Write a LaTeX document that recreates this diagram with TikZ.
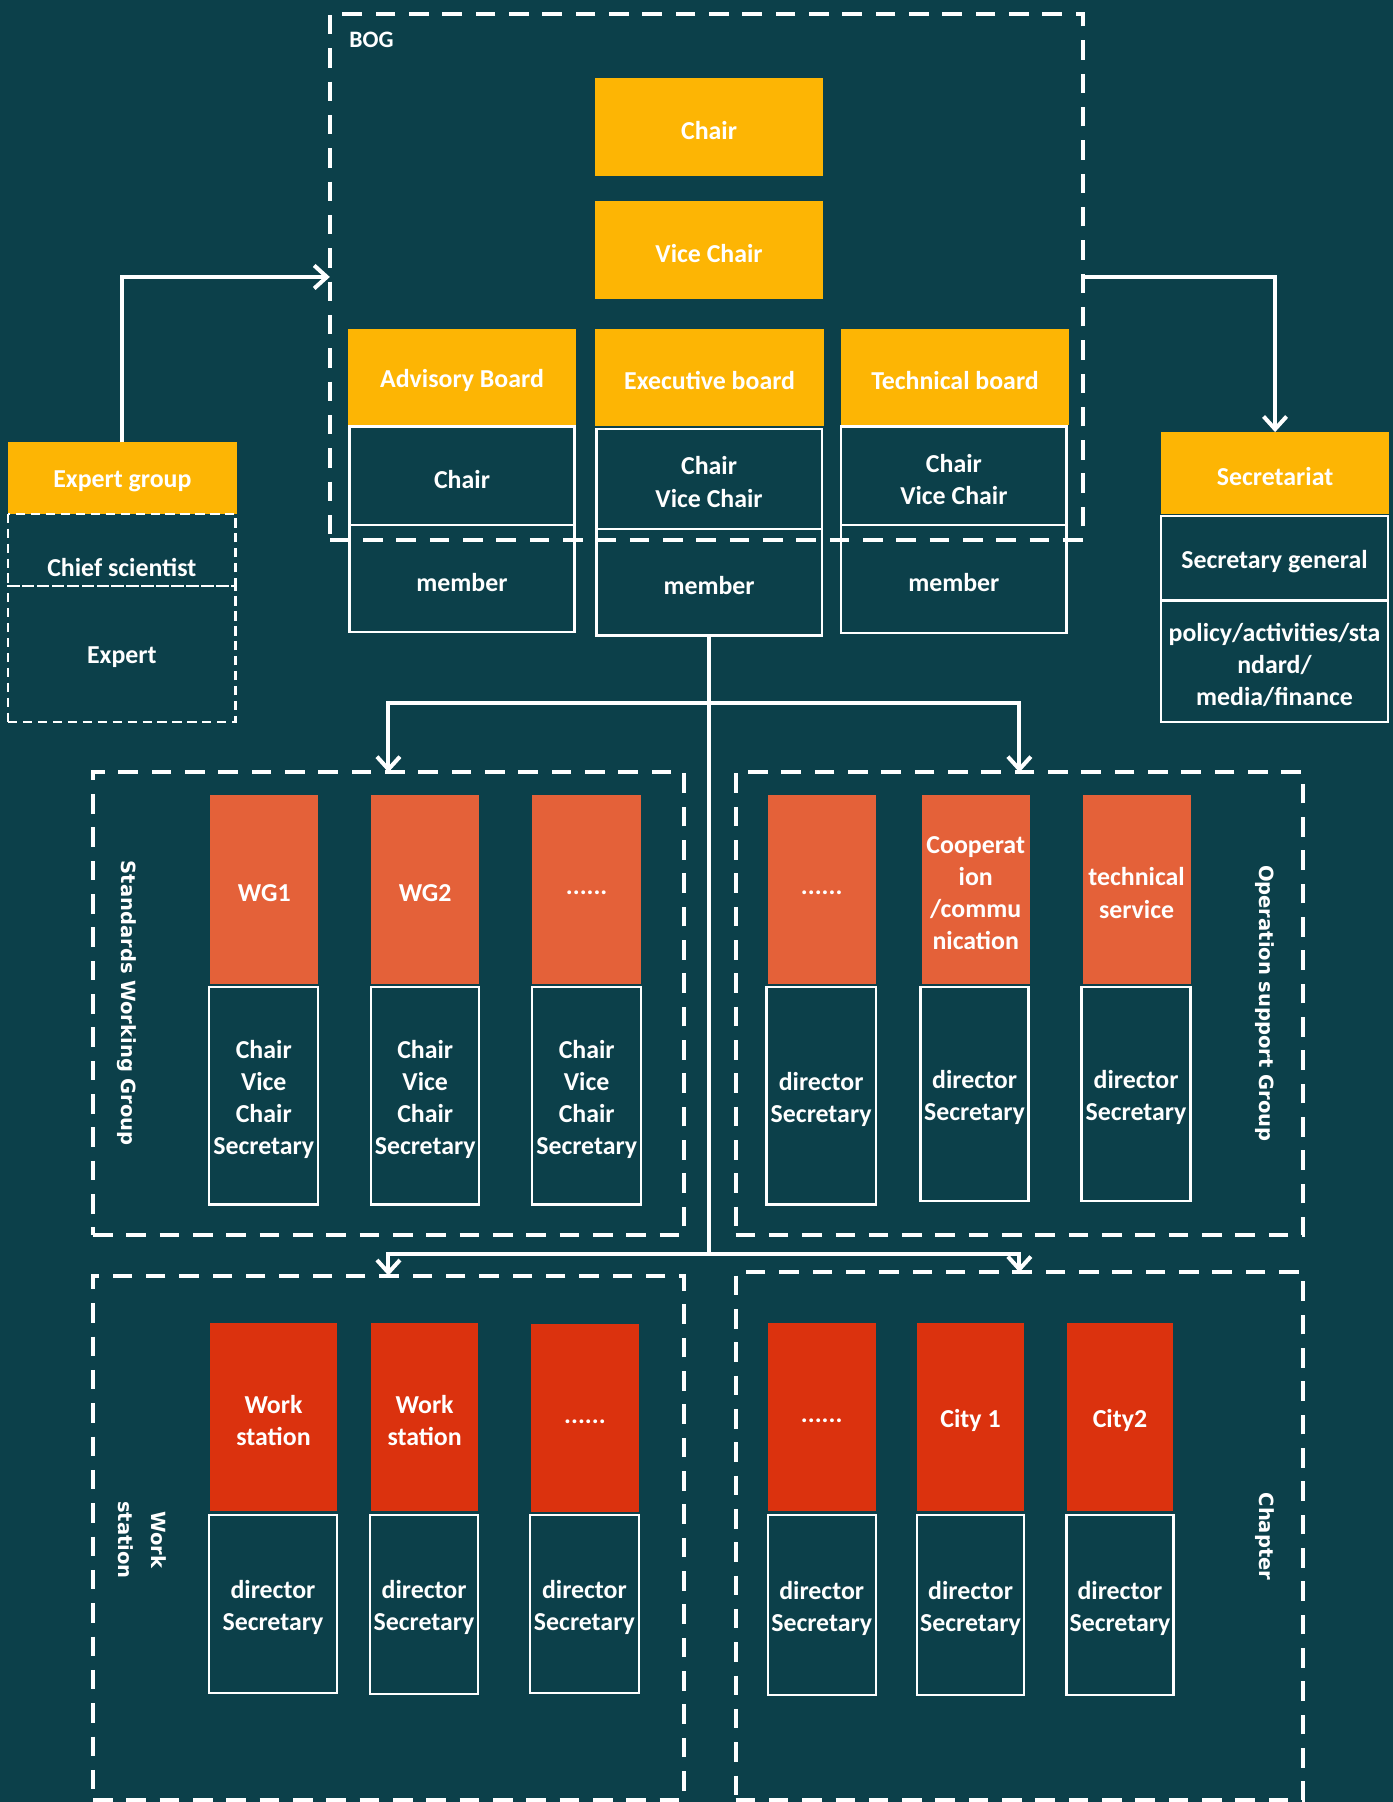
\documentclass[tikz,border=0pt]{standalone}
\usepackage{fontspec}
\setmainfont{Carlito}
\newfontfamily\labfont{DejaVu Sans}
\usetikzlibrary{arrows.meta}
\definecolor{bg}{RGB}{12,64,74}
\definecolor{gold}{RGB}{253,181,4}
\definecolor{wgor}{RGB}{228,97,57}
\definecolor{redd}{RGB}{219,50,14}
\newcommand\bx[7]{\node[#6,minimum width={#4-#2},minimum height={#5-#3}] (#1) at ({(#2+#4)/2},{(#3+#5)/2}) {};
  \node[yshift=-3pt] (#1t) at (#1.center) {#7};}
\begin{document}
\begin{tikzpicture}[x=1pt,y=-1pt,
  every node/.style={inner sep=0pt,outer sep=0pt,text=white,align=center,
    font=\fontsize{22.5}{28}\selectfont\bfseries},
  hdr/.style={fill=gold},
  wgh/.style={fill=wgor},
  rdh/.style={fill=redd},
  outl/.style={draw=white,line width=2pt},
  bigdash/.style={draw=white,line width=3.5pt,dash pattern=on 17pt off 12pt},
  smalldash/.style={draw=white,line width=2pt,dash pattern=on 8pt off 5pt},
  conn/.style={draw=white,line width=3.5pt},
  arr/.style={conn,-{Straight Barb[length=11pt,width=20pt]}},
  grplab/.style={font=\labfont\fontsize{17}{29}\selectfont\bfseries,rotate=-90}
]
\fill[bg] (0,0) rectangle (1212,1568);
\useasboundingbox (0,0) rectangle (1212,1568);

% BOG
\bx{chair}{518}{68}{716}{153}{hdr}{Chair}
\bx{vice}{518}{175}{716}{260}{hdr}{Vice Chair}
\bx{adv}{303}{286}{501}{370}{hdr}{Advisory Board}
\bx{advc}{304}{371}{500}{457}{outl}{Chair}
\bx{advm}{304}{457}{500}{550}{outl}{member}
\bx{exe}{518}{286}{717}{371}{hdr}{Executive board}
\bx{exec}{519}{373}{715}{460}{outl}{Chair\\Vice Chair}
\bx{exem}{519}{460}{715}{553}{outl}{member}
\bx{tec}{732}{286}{930}{370}{hdr}{Technical board}
\bx{tecc}{732}{371}{928}{457}{outl}{Chair\\Vice Chair}
\bx{tecm}{732}{457}{928}{551}{outl}{member}
\node[bigdash,minimum width=655pt,minimum height=458pt] (bog) at (614.5,241) {};
\node[anchor=west,font=\fontsize{20.5}{24}\selectfont\bfseries] (boglab) at (304,35) {BOG};

% Expert group
\bx{eg}{7}{385}{206}{447}{hdr}{Expert group}
\draw[smalldash] (7,447) rectangle (205,510);
\node (egc) at (106,494) {Chief scientist};
\bx{egx}{7}{510}{205}{628}{smalldash}{Expert}

% Secretariat
\bx{sec}{1010}{376}{1209}{447}{hdr}{Secretariat}
\bx{secg}{1010}{449}{1208}{522}{outl}{Secretary general}
\bx{secp}{1010}{523}{1208}{628}{outl}{policy/activities/sta\\ndard/\\media/finance}

% Standards Working Group
\bx{swg}{81}{672}{595}{1075}{bigdash}{}
\node[grplab] (swglab) at (110,873) {Standards Working Group};
\bx{wg1}{183}{692}{277}{856}{wgh}{WG1}
\bx{wg1b}{182}{859}{277}{1048}{outl}{Chair\\Vice\\Chair\\Secretary}
\bx{wg2}{323}{692}{417}{856}{wgh}{WG2}
\bx{wg2b}{323}{859}{417}{1048}{outl}{Chair\\Vice\\Chair\\Secretary}
\bx{wg3}{463}{692}{558}{856}{wgh}{......}
\bx{wg3b}{463}{859}{558}{1048}{outl}{Chair\\Vice\\Chair\\Secretary}

% Operation support Group
\bx{osg}{640}{672}{1134}{1075}{bigdash}{}
\node[grplab] (osglab) at (1101,873) {Operation support Group};
\bx{os1}{668}{692}{762}{856}{wgh}{......}
\bx{os1b}{667}{859}{762}{1048}{outl}{director\\Secretary}
\bx{os2}{802}{692}{896}{856}{wgh}{Cooperat\\ion\\/commu\\nication}
\bx{os2b}{801}{859}{895}{1045}{outl}{director\\Secretary}
\bx{os3}{942}{692}{1036}{856}{wgh}{technical\\service}
\bx{os3b}{941}{859}{1036}{1045}{outl}{director\\Secretary}

% Work station
\bx{ws}{81}{1110}{595}{1566}{bigdash}{}
\node[grplab] (wslab) at (124,1340) {Work\\station};
\bx{ws1}{183}{1151}{293}{1315}{rdh}{Work\\station}
\bx{ws1b}{182}{1318}{293}{1473}{outl}{director\\Secretary}
\bx{ws2}{323}{1151}{416}{1315}{rdh}{Work\\station}
\bx{ws2b}{322}{1318}{416}{1474}{outl}{director\\Secretary}
\bx{ws3}{462}{1152}{556}{1316}{rdh}{......}
\bx{ws3b}{461}{1318}{556}{1473}{outl}{director\\Secretary}

% Chapter
\bx{ch}{640}{1107}{1134}{1566}{bigdash}{}
\node[grplab] (chlab) at (1101,1337) {Chapter};
\bx{ch1}{668}{1151}{762}{1315}{rdh}{......}
\bx{ch1b}{668}{1318}{762}{1475}{outl}{director\\Secretary}
\bx{ch2}{798}{1151}{891}{1315}{rdh}{City 1}
\bx{ch2b}{798}{1318}{891}{1475}{outl}{director\\Secretary}
\bx{ch3}{928}{1151}{1021}{1315}{rdh}{City2}
\bx{ch3b}{928}{1318}{1021}{1475}{outl}{director\\Secretary}

% connectors
\draw[arr] (eg.north) -- (eg.north |- bog.west) -- (bog.west);
\draw[arr] (bog.east) -- (bog.east -| sec.north) -- (sec.north);
\coordinate (j1) at (617,612);
\coordinate (j2) at (617,1091);
\draw[conn] (exem.south) -- (j2);
\draw[arr] (j1) -| (swg.north);
\draw[arr] (j1) -| (osg.north);
\draw[arr] (j2) -| (ws.north);
\draw[arr] (j2) -| (ch.north);
\end{tikzpicture}
\end{document}
